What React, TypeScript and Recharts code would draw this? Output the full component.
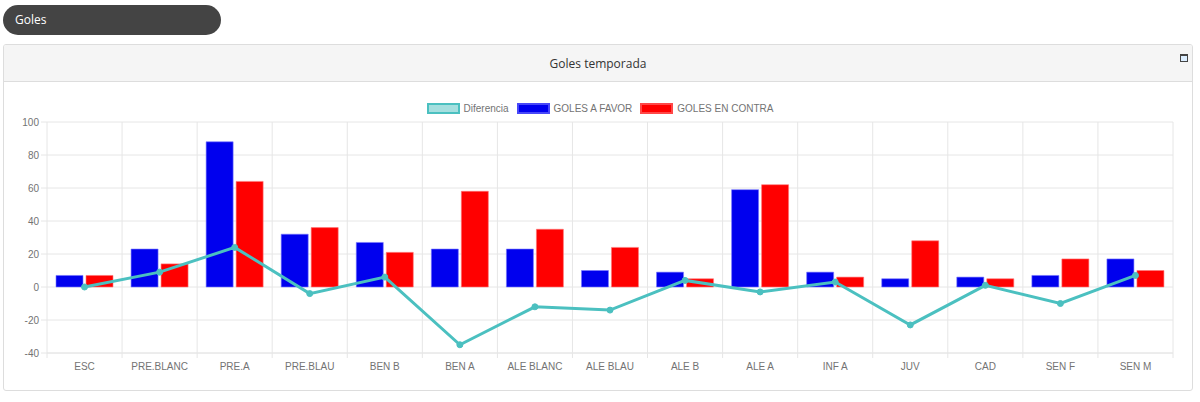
import { ComposedChart, Bar, Line, XAxis, YAxis, CartesianGrid } from 'recharts'

const categories = ['ESC', 'PRE.BLANC', 'PRE.A', 'PRE.BLAU', 'BEN B', 'BEN A', 'ALE BLANC', 'ALE BLAU', 'ALE B', 'ALE A', 'INF A', 'JUV', 'CAD', 'SEN F', 'SEN M']
const golesAFavor = [7, 23, 88, 32, 27, 23, 23, 10, 9, 59, 9, 5, 6, 7, 17]
const golesEnContra = [7, 14, 64, 36, 21, 58, 35, 24, 5, 62, 6, 28, 5, 17, 10]
const diferencia = [0, 9, 24, -4, 6, -35, -12, -14, 4, -3, 3, -23, 1, -10, 7]
const yTicks = [-40, -20, 0, 20, 40, 60, 80, 100]

const chartData = categories.map((name, i) => ({
  name,
  favor: golesAFavor[i],
  contra: golesEnContra[i],
  diff: diferencia[i]
}))

const CHART_W = 1200
const CHART_H = 310
const MARGIN = { top: 42, right: 27, left: 7, bottom: 7 }
const Y_WIDTH = 40
const PLOT_LEFT = MARGIN.left + Y_WIDTH
const PLOT_W = CHART_W - PLOT_LEFT - MARGIN.right
const BAND = PLOT_W / categories.length

const TEAL = 'rgb(75,192,192)'
const BLUE = '#0000ee'
const RED = '#ff0000'
const GRID = '#e6e6e6'
const TEXT = '#737373'
const FONT = '"Liberation Sans", Arial, Helvetica, sans-serif'

const legendItems = [
  { label: 'Diferencia', fill: 'rgba(75,192,192,0.5)', border: TEAL },
  { label: 'GOLES A FAVOR', fill: BLUE, border: 'rgba(120,120,255,0.6)' },
  { label: 'GOLES EN CONTRA', fill: RED, border: 'rgba(255,120,120,0.6)' }
]

const XTick = ({ x, y, payload, index }: any) => {
  const axisY = y - 8
  return (
    <g>
      <line x1={x - BAND / 2} x2={x - BAND / 2} y1={axisY} y2={axisY + 5} stroke={GRID} />
      {index === categories.length - 1 && (
        <line x1={x + BAND / 2} x2={x + BAND / 2} y1={axisY} y2={axisY + 5} stroke={GRID} />
      )}
      <text x={x} y={y} dy={9} textAnchor="middle" fill={TEXT} fontSize={10} fontFamily={FONT}>
        {payload.value}
      </text>
    </g>
  )
}

export default function App() {
  return (
    <div style={{ position: 'relative', width: 1200, height: 402, background: '#fff', fontFamily: '"Open Sans", "Noto Sans", sans-serif' }}>
      <style>{'body{margin:0}'}</style>

      {/* Section pill */}
      <div style={{ position: 'absolute', left: 3, top: 5, width: 218, height: 30, background: '#444', borderRadius: 15, color: '#fff', fontSize: 12, lineHeight: '30px', paddingLeft: 12, boxSizing: 'border-box' }}>
        Goles
      </div>

      {/* Panel */}
      <div style={{ position: 'absolute', left: 3, top: 44, width: 1190, height: 347, border: '1px solid #ddd', borderRadius: 3, boxSizing: 'border-box', overflow: 'hidden' }}>
        <div style={{ height: 36, background: '#f5f5f5', borderBottom: '1px solid #ddd', textAlign: 'center', fontSize: 12, lineHeight: '38px', color: '#333' }}>
          Goles temporada
        </div>
        <div style={{ position: 'absolute', right: 4, top: 9, width: 6, height: 5, border: '1px solid #444', borderTopWidth: 2, background: '#dceeff' }} />
      </div>

      {/* Legend */}
      <div style={{ position: 'absolute', left: 0, top: 103, width: 1200, display: 'flex', justifyContent: 'center', fontFamily: FONT, fontSize: 10, color: TEXT }}>
        {legendItems.map(item => (
          <div key={item.label} style={{ display: 'flex', alignItems: 'center', margin: '0 4px' }}>
            <span style={{ display: 'inline-block', width: 33, height: 11, background: item.fill, border: `2px solid ${item.border}`, boxSizing: 'border-box', marginRight: 4 }} />
            <span>{item.label}</span>
          </div>
        ))}
      </div>

      <div style={{ position: 'absolute', left: 0, top: 80 }}>
        <ComposedChart width={CHART_W} height={CHART_H} data={chartData} margin={MARGIN} barSize={27} barGap={3}>
          <CartesianGrid
            stroke={GRID}
            verticalCoordinatesGenerator={({ offset }: any) =>
              categories.map((_, i) => offset.left + (i + 1) * (offset.width / categories.length))
            }
          />
          <XAxis dataKey="name" axisLine={{ stroke: GRID }} tickLine={false} tick={<XTick />} interval={0} height={30} />
          <YAxis
            domain={[-40, 100]}
            ticks={yTicks}
            width={Y_WIDTH}
            axisLine={{ stroke: GRID }}
            tickLine={{ stroke: GRID }}
            tick={{ fill: TEXT, fontSize: 10, fontFamily: FONT }}
          />
          <Bar dataKey="favor" name="GOLES A FAVOR" fill={BLUE} stroke="rgba(120,120,255,0.6)" isAnimationActive={false} />
          <Bar dataKey="contra" name="GOLES EN CONTRA" fill={RED} stroke="rgba(255,120,120,0.6)" isAnimationActive={false} />
          <Line
            dataKey="diff"
            name="Diferencia"
            type="linear"
            stroke={TEAL}
            strokeWidth={3}
            dot={{ r: 3, fill: TEAL, stroke: TEAL, strokeWidth: 1 }}
            activeDot={false}
            isAnimationActive={false}
          />
        </ComposedChart>
      </div>
    </div>
  )
}
